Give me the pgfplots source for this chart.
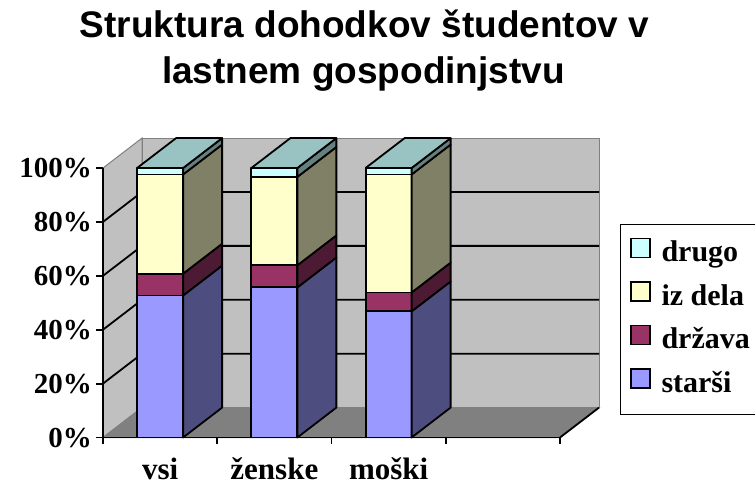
\documentclass[border=0pt]{standalone}
\usepackage{fontspec}
\setmainfont{Liberation Serif}
\newfontfamily\titlefont{Liberation Sans}
\usepackage{pgfplots}
\pgfplotsset{compat=1.18}
\definecolor{starsiF}{HTML}{9999FF}
\definecolor{starsiS}{HTML}{4D4D80}
\definecolor{drzavaF}{HTML}{993366}
\definecolor{drzavaS}{HTML}{4D1A33}
\definecolor{izdelaF}{HTML}{FFFFCC}
\definecolor{izdelaS}{HTML}{808066}
\definecolor{drugoF}{HTML}{CCFFFF}
\definecolor{drugoS}{HTML}{668080}
\definecolor{drugoT}{HTML}{99C2C2}
\definecolor{wall}{HTML}{C0C0C0}
\definecolor{floor}{HTML}{808080}
\newcommand\bw{0.2013}
\newcommand\ddx{0.3414}
\newcommand\ddy{11.1}
\newcommand{\seg}[5]{%
  \pgfmathsetmacro\xl{#1-\bw}%
  \pgfmathsetmacro\xr{#1+\bw}%
  \pgfmathsetmacro\xrb{#1+\bw+\ddx}%
  \pgfmathsetmacro\ya{#2+\ddy}%
  \pgfmathsetmacro\yb{#3+\ddy}%
  \addplot[fill=#4, draw=black, line width=1.8pt, line join=round, forget plot] coordinates {(\xl,#2) (\xr,#2) (\xr,#3) (\xl,#3)} --cycle;
  \addplot[fill=#5, draw=black, line width=1.8pt, line join=round, forget plot] coordinates {(\xr,#2) (\xrb,\ya) (\xrb,\yb) (\xr,#3)} --cycle;
}
\newcommand{\stackbar}[5]{%
  \pgfmathsetmacro\cA{#2}%
  \pgfmathsetmacro\cB{#2+#3}%
  \pgfmathsetmacro\cC{#2+#3+#4}%
  \pgfmathsetmacro\cD{#2+#3+#4+#5}%
  \seg{#1}{0}{\cA}{starsiF}{starsiS}%
  \seg{#1}{\cA}{\cB}{drzavaF}{drzavaS}%
  \seg{#1}{\cB}{\cC}{izdelaF}{izdelaS}%
  \seg{#1}{\cC}{\cD}{drugoF}{drugoS}%
  \pgfmathsetmacro\xl{#1-\bw}%
  \pgfmathsetmacro\xr{#1+\bw}%
  \pgfmathsetmacro\xlb{#1-\bw+\ddx}%
  \pgfmathsetmacro\xrb{#1+\bw+\ddx}%
  \pgfmathsetmacro\yb{\cD+\ddy}%
  \addplot[fill=drugoT, draw=black, line width=1.8pt, line join=round, forget plot] coordinates {(\xl,\cD) (\xr,\cD) (\xrb,\yb) (\xlb,\yb)} --cycle;
}
\begin{document}
\begin{tikzpicture}[x=1pt,y=1pt]
\useasboundingbox (0,0) rectangle (755,485);
\node[anchor=base, font=\titlefont\fontsize{37}{40}\selectfont\bfseries] at (364.5,447.7) {Struktura dohodkov študentov v};
\node[anchor=base, font=\titlefont\fontsize{37}{40}\selectfont\bfseries] at (363.5,401.7) {lastnem gospodinjstvu};
\begin{axis}[
  scale only axis, width=457pt, height=269.5pt,
  at={(103pt,47.5pt)}, anchor=south west,
  xmin=0.5, xmax=4.5, ymin=0, ymax=100,
  clip=false, axis on top,
  axis x line*=bottom, axis y line*=left,
  axis line style={line width=1.8pt, black, -},
  xtick={1,2,3}, xticklabels={vsi,ženske,moški},
  minor xtick={0.5,1.5,2.5,3.5,4.5},
  ytick={0,20,40,60,80,100}, yticklabels={0\%,20\%,40\%,60\%,80\%,100\%},
  tick align=outside, major tick length=6.5pt, minor tick length=6.5pt,
  major x tick style={draw=none},
  minor x tick style={line width=1.8pt, black},
  major y tick style={line width=1.8pt, black},
  xticklabel style={font=\fontsize{31}{36}\selectfont\bfseries, anchor=base, inner sep=0pt, text depth=0pt, yshift=-35pt},
  yticklabel style={font=\fontsize{29}{34}\selectfont\bfseries, anchor=base east, inner sep=0pt, yshift=-10pt, xshift=-4.5pt},
  legend image code/.code={\useasboundingbox (0pt,0pt) rectangle (19pt,16pt);\draw[#1, draw=black, line width=1.2pt] (0pt,-3pt) rectangle (19pt,16pt);},
  legend style={at={(1.1313,0.794)}, anchor=north west, draw=black, line width=1pt,
    inner xsep=10pt, inner ysep=14pt, row sep=12pt,
    font=\fontsize{30}{36}\selectfont\bfseries,
    nodes={inner sep=0pt, text height=22pt, text depth=8pt},
    /tikz/every odd column/.append style={column sep=11pt}},
  legend cell align=left,
]
% legend images first
\addlegendimage{fill=drugoF}
\addlegendentry{drugo}
\addlegendimage{fill=izdelaF}
\addlegendentry{iz dela}
\addlegendimage{fill=drzavaF}
\addlegendentry{država}
\addlegendimage{fill=starsiF}
\addlegendentry{starši}
% walls and floor
\addplot[fill=wall, draw=floor, line width=1pt, forget plot] coordinates {(0.5,0) (0.5,100) (0.8414,111.1) (0.8414,11.1)} --cycle;
\addplot[fill=wall, draw=floor, line width=1pt, forget plot] coordinates {(0.8414,11.1) (4.8414,11.1) (4.8414,111.1) (0.8414,111.1)} --cycle;
\addplot[fill=floor, draw=floor, line width=1pt, forget plot] coordinates {(0.5,0) (4.5,0) (4.8414,11.1) (0.8414,11.1)} --cycle;
\addplot[black, line width=1.8pt, forget plot] coordinates {(4.5,0) (4.8414,11.1)};
% gridlines
\addplot[black, line width=1.8pt, forget plot] coordinates {(0.5,20) (0.8414,31.1) (4.8414,31.1)};
\addplot[black, line width=1.8pt, forget plot] coordinates {(0.5,40) (0.8414,51.1) (4.8414,51.1)};
\addplot[black, line width=1.8pt, forget plot] coordinates {(0.5,60) (0.8414,71.1) (4.8414,71.1)};
\addplot[black, line width=1.8pt, forget plot] coordinates {(0.5,80) (0.8414,91.1) (4.8414,91.1)};
% bars: x, starsi, drzava, iz dela, drugo
\stackbar{1}{52.7}{8.1}{36.8}{2.4}
\stackbar{2}{55.7}{8.2}{32.8}{3.3}
\stackbar{3}{46.8}{7.0}{43.8}{2.4}
\end{axis}
\end{tikzpicture}
\end{document}
